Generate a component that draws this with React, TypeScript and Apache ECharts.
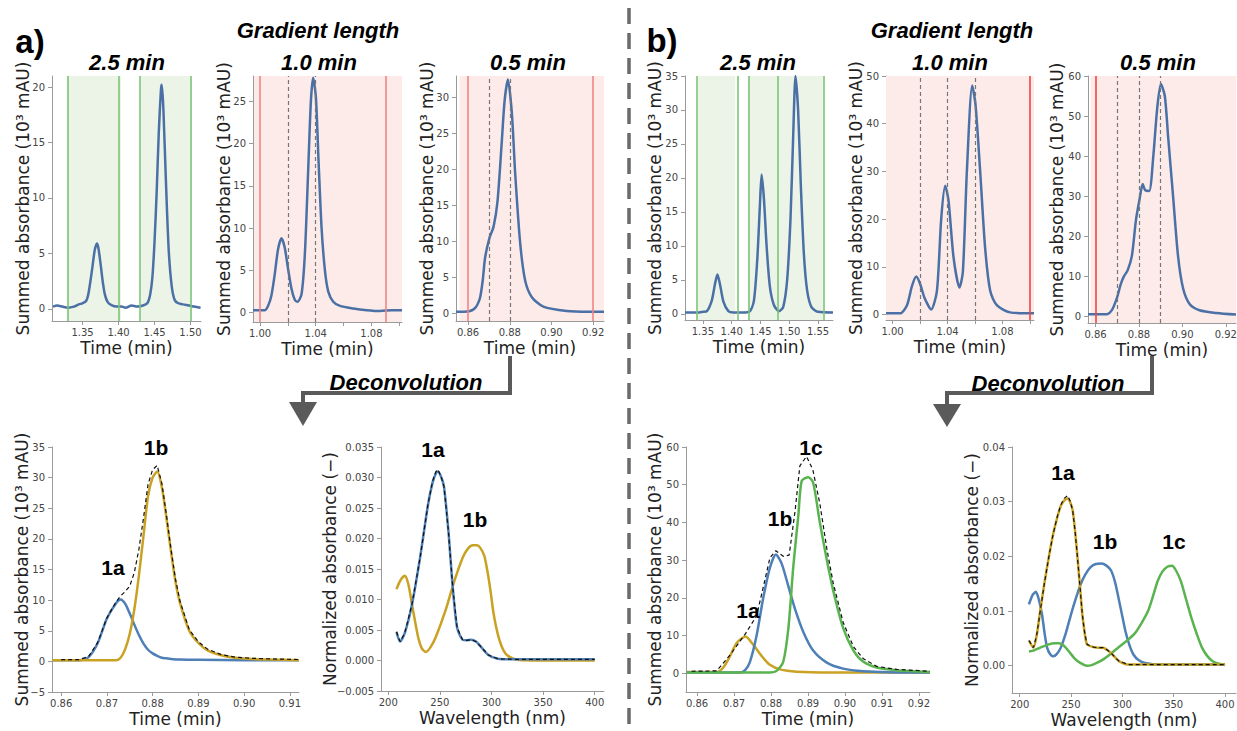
import React, { useEffect, useRef } from "react";
import * as echarts from "echarts";

// ---------- DATA ----------
// a) top row: chromatograms (time in min, summed absorbance in 10^3 mAU)
const a25 = [[1.309,0.2],[1.315,0.3],[1.322,0.2],[1.330,0.1],[1.338,0.2],[1.345,0.4],[1.350,0.5],[1.355,0.7],[1.358,1.3],[1.361,2.5],[1.364,3.9],[1.367,5.3],[1.370,5.9],[1.372,5.5],[1.375,4.1],[1.378,2.5],[1.381,1.3],[1.385,0.6],[1.391,0.3],[1.397,0.2],[1.404,0.2],[1.410,0.1],[1.418,0.3],[1.426,0.2],[1.434,0.3],[1.440,0.5],[1.444,1.3],[1.447,2.8],[1.450,6],[1.453,10.5],[1.456,16],[1.459,19.8],[1.460,20.2],[1.462,18.5],[1.464,15],[1.467,9.5],[1.470,5],[1.474,2],[1.478,0.8],[1.483,0.5],[1.490,0.4],[1.498,0.3],[1.505,0.2],[1.514,0.1]];
const a10 = [[0.9949,0.3],[1.0033,0.3],[1.0057,0.8],[1.0081,2],[1.0105,4.5],[1.0129,7.5],[1.0154,8.8],[1.0177,7.7],[1.0201,5.2],[1.0226,2.8],[1.025,1.5],[1.0269,1.3],[1.0298,2.2],[1.0322,7],[1.0346,17],[1.0365,25],[1.0381,27.8],[1.0401,25.5],[1.042,18],[1.0442,10],[1.0466,5],[1.049,2.5],[1.0526,1.3],[1.0574,0.8],[1.067,0.5],[1.0766,0.3],[1.0862,0.2],[1.0947,0.3],[1.1020,0.3]];
const a05 = [[0.8542,0.2],[0.858,0.2],[0.861,0.3],[0.863,0.6],[0.8645,1.2],[0.8658,2.2],[0.867,4.5],[0.8682,7.8],[0.8703,10.5],[0.8722,12],[0.8741,15.5],[0.8762,24],[0.8775,29.5],[0.8791,32.5],[0.881,27.8],[0.8826,19.4],[0.885,9.7],[0.8874,4.5],[0.8906,2.2],[0.8961,0.9],[0.9073,0.3],[0.918,0.2],[0.9252,0.2]];
const aGreenLines = [1.3281, 1.4035, 1.4313, 1.5017];
const aRed10 = [0.9956, 1.0862];
const aDash10 = [1.0154, 1.0381];
const aRed05 = [0.8559, 0.9185];
const aDash05 = [0.8703, 0.8791];

// b) top row
const b25 = [[1.319,0.2],[1.340,0.2],[1.350,0.3],[1.357,0.4],[1.3656,2],[1.3713,4.5],[1.3753,5.8],[1.3799,4.3],[1.3857,1.8],[1.3943,0.4],[1.403,0.2],[1.420,0.2],[1.4318,0.4],[1.4388,2],[1.4445,8],[1.4491,16],[1.452,20.5],[1.456,17],[1.4607,10],[1.4664,4],[1.4734,1.3],[1.482,0.4],[1.4895,1],[1.4964,5],[1.5022,14],[1.5068,26],[1.5109,35],[1.5154,30],[1.5201,19],[1.5253,9],[1.531,3.5],[1.5386,1],[1.5501,0.3],[1.576,0.2]];
const b10 = [[0.9952,0.3],[1.0055,0.3],[1.0105,2],[1.0141,6],[1.0172,8],[1.020,6.5],[1.0233,3.5],[1.0281,1.1],[1.0323,5],[1.0354,20],[1.0383,27],[1.0407,24],[1.0444,12],[1.0487,5.7],[1.0512,9],[1.0541,30],[1.058,48],[1.0604,44],[1.0638,30],[1.0674,14],[1.0711,5],[1.0759,2],[1.0856,0.5],[1.103,0.3]];
const b05 = [[0.8565,0.5],[0.8652,0.5],[0.8675,1.5],[0.8698,4.5],[0.8716,8],[0.8731,10],[0.8748,11.5],[0.8767,15],[0.8786,24],[0.8802,29],[0.8817,33],[0.8828,31.5],[0.8847,31.3],[0.8866,40],[0.8884,52],[0.8901,58],[0.8919,55],[0.8934,45],[0.8957,30],[0.898,15],[0.9003,7],[0.9034,3],[0.9079,1.5],[0.9156,0.8],[0.9247,0.4]];
const bGreenLines = [1.3413, 1.4064, 1.4279, 1.482, 1.5587];
const bRed10 = [1.0953];
const bDash10 = [1.0172, 1.0383, 1.058];
const bRed05 = [0.8577];
const bDash05 = [0.8731, 0.8817, 0.8901];

// a) bottom: deconvolved chromatogram (0.5 min) and spectra
const c1a = [[0.858,0.2],[0.860,0.2],[0.862,0.2],[0.864,0.2],[0.866,0.7],[0.868,3.0],[0.870,7.0],[0.872,9.5],[0.873,10.1],[0.874,9.4],[0.875,7.8],[0.876,6.0],[0.877,4.3],[0.878,2.9],[0.879,1.9],[0.880,1.3],[0.881,0.9],[0.882,0.6],[0.883,0.5],[0.884,0.4],[0.886,0.3],[0.890,0.25],[0.900,0.2],[0.912,0.2]];
const c1b = [[0.858,0.2],[0.872,0.2],[0.873,0.6],[0.874,2.0],[0.875,4.5],[0.876,8.5],[0.877,14],[0.878,20.5],[0.879,27],[0.880,30.0],[0.881,31.0],[0.882,28.5],[0.883,23.5],[0.884,18],[0.885,13],[0.886,9.5],[0.888,5],[0.890,3.0],[0.892,1.8],[0.895,1.0],[0.898,0.6],[0.902,0.4],[0.906,0.3],[0.912,0.2]];
const cSum = [[0.860,0.3],[0.862,0.3],[0.864,0.3],[0.866,0.8],[0.868,3.1],[0.870,7.1],[0.872,9.7],[0.873,10.7],[0.874,11.4],[0.875,12.3],[0.876,14.5],[0.877,18.3],[0.878,23.4],[0.879,28.9],[0.880,31.3],[0.881,32.0],[0.882,29.1],[0.883,24.0],[0.884,18.4],[0.885,13.4],[0.886,9.8],[0.888,5.2],[0.890,3.2],[0.892,2.0],[0.895,1.1],[0.898,0.7],[0.902,0.5],[0.906,0.4],[0.912,0.3]];
const d1a = [[208,0.0047],[211.5,0.0031],[216,0.0045],[223,0.0092],[230.8,0.0168],[238.5,0.0255],[243,0.0292],[246,0.0306],[248,0.031],[251,0.0302],[254,0.0285],[258.3,0.0212],[262.5,0.012],[266.7,0.0054],[272,0.0034],[276,0.0033],[280.5,0.0034],[285,0.0031],[289,0.0024],[297,0.0009],[306,0.0003],[320,0.0002],[400,0.0002]];
const d1b = [[208,0.0117],[212,0.0132],[216,0.0139],[219.5,0.0125],[223,0.0092],[229,0.0038],[232.5,0.002],[236.5,0.0014],[241,0.0022],[246,0.0038],[255.5,0.0082],[264,0.013],[272,0.0168],[277,0.0183],[281.9,0.0189],[286,0.0189],[289,0.0185],[293,0.0172],[296,0.0147],[299,0.0115],[301.6,0.0082],[304.5,0.0055],[307.8,0.0033],[311.5,0.0017],[315.6,0.0008],[325,0.0001],[340,0],[400,0]];
const dMeas = [[208,0.0047],[211.5,0.0031],[216,0.0045],[223,0.0092],[230.8,0.0168],[238.5,0.0256],[243,0.0294],[246,0.0309],[248,0.0313],[251,0.0303],[254,0.0285],[258.3,0.0212],[262.5,0.012],[266.7,0.0054],[272,0.0034],[276,0.0033],[280.5,0.0034],[285,0.0031],[289,0.0024],[297,0.0009],[306,0.0003],[320,0.0002],[400,0.0002]];

// b) bottom
const e1a = [[0.8572,0.3],[0.8653,0.3],[0.8671,1.5],[0.8689,4.5],[0.8707,8],[0.8731,9.7],[0.8752,7.5],[0.8775,4.5],[0.8797,2.2],[0.8824,1],[0.8869,0.4],[0.896,0.2],[0.923,0.2]];
const e1b = [[0.8572,0.2],[0.8716,0.2],[0.873,0.8],[0.8743,3],[0.8761,10],[0.8779,20],[0.8797,28],[0.8813,31.5],[0.8829,29],[0.8847,23],[0.8865,17],[0.8887,11],[0.8914,6],[0.8951,2.8],[0.8995,1.2],[0.905,0.5],[0.914,0.2],[0.923,0.2]];
const e1c = [[0.8572,0.2],[0.8797,0.2],[0.8815,0.6],[0.8833,3],[0.8847,12],[0.886,28],[0.8874,42],[0.8883,51],[0.8901,52],[0.8914,50.5],[0.8932,40],[0.8951,30],[0.8968,22],[0.8995,12],[0.9023,6],[0.905,3],[0.9086,1.5],[0.914,0.8],[0.923,0.3]];
const eSum = [[0.8585,0.5],[0.8653,0.6],[0.8689,4.8],[0.8731,10.5],[0.8761,15.2],[0.8779,22.8],[0.8797,30.6],[0.8813,32.5],[0.8833,31],[0.8849,31.3],[0.8865,43],[0.8878,55],[0.8896,57.5],[0.8913,54],[0.8932,45],[0.8951,33],[0.8968,24],[0.8995,13.5],[0.9023,7],[0.905,3.8],[0.9086,1.8],[0.914,1.0],[0.923,0.5]];
const f1a = [[209,0.0046],[213.3,0.0033],[216.5,0.0055],[220,0.01],[224,0.015],[228.3,0.0198],[232.5,0.024],[236.7,0.0272],[240,0.0292],[243.3,0.0302],[246.7,0.0306],[249,0.03],[251.6,0.0284],[254,0.0245],[256.3,0.0198],[258.7,0.0145],[261,0.0094],[263.3,0.006],[265.6,0.0039],[271.9,0.0034],[277,0.0033],[281.3,0.0033],[285,0.0029],[289,0.0023],[293,0.0015],[296.9,0.0008],[306,0.0002],[400,0.0002]];
const f1b = [[209,0.0112],[212.5,0.0129],[215.7,0.0135],[218.5,0.0122],[221.7,0.0094],[224.2,0.006],[226.7,0.0033],[229.7,0.0021],[232.7,0.0017],[236,0.0021],[240,0.0033],[245,0.006],[250,0.0094],[254.7,0.0123],[259.4,0.0149],[264,0.0167],[268.8,0.018],[274,0.0186],[279.7,0.0187],[284.5,0.0183],[289,0.0174],[293,0.0152],[296.9,0.0118],[300,0.009],[303,0.0063],[307,0.0037],[310.9,0.002],[316,0.001],[321.9,0.0005],[337.5,0.0002],[400,0.0002]];
const f1c = [[209,0.0026],[214,0.0028],[220,0.0033],[228.3,0.0039],[234,0.0041],[238.3,0.0041],[243.3,0.0036],[248,0.0026],[253.1,0.0014],[259,0.0005],[265.6,0.0],[270,0.0001],[275,0.0005],[281,0.0011],[287.5,0.002],[294,0.003],[300,0.0039],[306,0.0048],[312.5,0.006],[318.7,0.0078],[325,0.01],[330,0.0128],[334.4,0.0155],[339,0.0172],[343.8,0.0181],[348.4,0.0183],[352,0.0175],[356.9,0.0155],[362,0.0122],[367.2,0.0088],[372.5,0.0058],[377.6,0.0033],[383,0.0017],[388,0.0008],[393,0.0004],[398.3,0.0002],[400,0.0001]];
const fMeas = [[209,0.0046],[213.3,0.0033],[216.5,0.0055],[220,0.01],[224,0.015],[228.3,0.0198],[232.5,0.024],[236.7,0.0273],[240,0.0294],[243.3,0.0306],[246.7,0.0311],[249,0.0302],[251.6,0.0284],[254,0.0245],[256.3,0.0198],[258.7,0.0145],[261,0.0094],[263.3,0.006],[265.6,0.0039],[271.9,0.0034],[277,0.0033],[281.3,0.0033],[285,0.0029],[289,0.0023],[293,0.0015],[296.9,0.0008],[306,0.0002],[400,0.0002]];

// tick labels
const tA25 = [1.35, 1.40, 1.45, 1.50];
const tB25 = [1.35, 1.40, 1.45, 1.50, 1.55];
const t10Labels = [1.00, 1.04, 1.08];
const t10Ticks = [1.00, 1.02, 1.04, 1.06, 1.08, 1.10];
const t05 = [0.86, 0.88, 0.90, 0.92];
const tC = [0.86, 0.87, 0.88, 0.89, 0.90, 0.91];
const tE = [0.86, 0.87, 0.88, 0.89, 0.90, 0.91, 0.92];
const tNm = [200, 250, 300, 350, 400];
const yA25 = [0, 5, 10, 15, 20];
const yA10 = [0, 5, 10, 15, 20, 25];
const yA05 = [0, 5, 10, 15, 20, 25, 30];
const yB25 = [0, 5, 10, 15, 20, 25, 30, 35];
const yB10 = [0, 10, 20, 30, 40, 50];
const yB05 = [0, 10, 20, 30, 40, 50, 60];
const yC = [-5, 0, 5, 10, 15, 20, 25, 30, 35];
const yD = [-0.005, 0, 0.005, 0.01, 0.015, 0.02, 0.025, 0.03, 0.035];
const yE = [0, 10, 20, 30, 40, 50, 60];
const yF = [0, 0.01, 0.02, 0.03, 0.04];

// ---------- STYLE ----------
const W = 1237, H = 731;
const FONT = "'DejaVu Sans', Verdana, sans-serif";
const BFONT = "'Liberation Sans', Arial, sans-serif";
const TOP_BLUE = "#4a70a6";
const BLUE = "#4e7fb7";
const GOLD = "#c9a123";
const GREEN = "#59b34f";
const PINK = "#fcebe9";
const LGREEN = "#ecf4e8";
const GLINE = "#7cc576";
const RED_A = "#ef8585";
const RED_B = "#ec4646";
const AXIS = "#9a9a9a";

const grids = [
  { left: 52, top: 76, width: 149, height: 245 },
  { left: 253, top: 76, width: 149, height: 246 },
  { left: 456, top: 76, width: 148, height: 245 },
  { left: 685, top: 76, width: 148, height: 244 },
  { left: 886, top: 76, width: 148, height: 244 },
  { left: 1088, top: 76, width: 148, height: 247 },
  { left: 52, top: 447, width: 247, height: 245 },
  { left: 381, top: 447, width: 223, height: 244 },
  { left: 686, top: 447, width: 244, height: 245 },
  { left: 1012, top: 447, width: 224, height: 246 },
];

function fmt(v: number, dec: number) {
  const n = Math.abs(v) < 1e-12 ? 0 : v;
  return n.toFixed(dec).replace("-", "\u2212");
}

function xAx(i: number, min: number, max: number, labels: number[], ticks: number[], dec: number, name: string) {
  return {
    type: "value", gridIndex: i, min, max, name, nameLocation: "middle", nameGap: 18,
    nameMoveOverlap: false,
    nameTextStyle: { fontFamily: FONT, fontSize: 17, color: "#222" },
    axisLine: { show: true, onZero: false, lineStyle: { color: AXIS, width: 1 } },
    axisTick: { show: true, length: 4, customValues: ticks, lineStyle: { color: AXIS } },
    axisLabel: { customValues: labels, fontFamily: FONT, fontSize: 10, color: "#444", margin: 6, formatter: (v: number) => fmt(v, dec) },
    splitLine: { show: false },
  };
}

function yAx(i: number, min: number, max: number, labels: number[], dec: number, name: string, gap: number) {
  return {
    type: "value", gridIndex: i, min, max, name, nameLocation: "middle", nameGap: gap, nameRotate: 90,
    nameMoveOverlap: false,
    nameTextStyle: { fontFamily: FONT, fontSize: 17, color: "#222" },
    axisLine: { show: true, onZero: false, lineStyle: { color: AXIS, width: 1 } },
    axisTick: { show: true, length: 4, customValues: labels, lineStyle: { color: AXIS } },
    axisLabel: { customValues: labels, fontFamily: FONT, fontSize: 10, color: "#444", margin: 7, formatter: (v: number) => fmt(v, dec) },
    splitLine: { show: false },
  };
}

function curve(i: number, data: number[][], color: string, width: number, dashed = false, extra: any = {}) {
  return {
    type: "line", xAxisIndex: i, yAxisIndex: i, data, symbol: "none", showSymbol: false, silent: true,
    smooth: dashed ? false : 0.25,
    lineStyle: { color, width, type: dashed ? [4, 3] : "solid" },
    z: dashed ? 5 : 3,
    ...extra,
  };
}

function vlines(vals: number[], color: string, dashed: boolean) {
  return vals.map((v) => ({
    xAxis: v,
    lineStyle: { color, width: dashed ? 1.2 : 1.6, type: dashed ? [4, 3] : "solid" },
  }));
}

function markers(areas: number[][], color: string, lines: any[]) {
  return {
    markArea: { silent: true, itemStyle: { color }, data: areas.map(([a, b]) => [{ xAxis: a }, { xAxis: b }]) },
    markLine: { silent: true, symbol: ["none", "none"], label: { show: false }, emphasis: { disabled: true }, data: lines },
  };
}

const SUMMED = "Summed absorbance (10\u00b3 mAU)";
const NORM = "Normalized absorbance (\u2212)";
const TIME = "Time (min)";
const WL = "Wavelength (nm)";

function txt(text: string, x: number, y: number, font: string) {
  return {
    type: "text", x, y, z: 100, silent: true,
    style: { text, font, fill: "#000", textAlign: "center", textVerticalAlign: "middle", align: "center", verticalAlign: "middle" },
  };
}

function buildOption() {
  const T1 = "italic bold 22px " + BFONT;
  const LB = "bold 21px " + BFONT;
  const graphic: any[] = [
    txt("a)", 30, 41, "bold 33px " + BFONT),
    txt("b)", 662, 40, "bold 33px " + BFONT),
    txt("Gradient length", 318, 30, T1),
    txt("Gradient length", 952, 30, T1),
    txt("2.5 min", 127, 62, T1), txt("1.0 min", 319, 62, T1), txt("0.5 min", 528, 62, T1),
    txt("2.5 min", 758, 62, T1), txt("1.0 min", 950, 62, T1), txt("0.5 min", 1158, 62, T1),
    txt("Deconvolution", 406, 382, T1), txt("Deconvolution", 1048, 383, T1),
    txt("1a", 113, 567, LB), txt("1b", 156, 447, LB),
    txt("1a", 433, 449, LB), txt("1b", 475, 519, LB),
    txt("1a", 748, 610, LB), txt("1b", 780, 518, LB), txt("1c", 811, 447, LB),
    txt("1a", 1063, 472, LB), txt("1b", 1105, 541, LB), txt("1c", 1174, 541, LB),
    { type: "line", z: 90, silent: true, shape: { x1: 629, y1: 8, x2: 629, y2: 731 }, style: { stroke: "#6a6a6a", lineWidth: 3.5, lineDash: [16, 9] } },
    { type: "polyline", z: 90, silent: true, shape: { points: [[510, 356], [510, 393], [303, 393], [303, 404]] }, style: { stroke: "#5a5a5a", lineWidth: 4, fill: null } },
    { type: "polygon", z: 90, silent: true, shape: { points: [[289, 402], [317, 402], [303, 426]] }, style: { fill: "#5a5a5a" } },
    { type: "polyline", z: 90, silent: true, shape: { points: [[1152, 356], [1152, 393], [947, 393], [947, 405]] }, style: { stroke: "#5a5a5a", lineWidth: 4, fill: null } },
    { type: "polygon", z: 90, silent: true, shape: { points: [[933, 404], [961, 404], [947, 427]] }, style: { fill: "#5a5a5a" } },
  ];

  const xAxis = [
    xAx(0, 1.3076, 1.5146, tA25, tA25, 2, TIME),
    xAx(1, 0.9949, 1.102, t10Labels, t10Ticks, 2, TIME),
    xAx(2, 0.8542, 0.9252, t05, t05, 2, TIME),
    xAx(3, 1.319, 1.576, tB25, tB25, 2, TIME),
    xAx(4, 0.9952, 1.103, t10Labels, t10Ticks, 2, TIME),
    xAx(5, 0.8565, 0.9247, t05, t05, 2, TIME),
    xAx(6, 0.858, 0.912, tC, tC, 2, TIME),
    xAx(7, 193, 409, tNm, tNm, 0, WL),
    xAx(8, 0.857, 0.923, tE, tE, 2, TIME),
    xAx(9, 192.5, 410.7, tNm, tNm, 0, WL),
  ];
  const yAxis = [
    yAx(0, -1.1, 21, yA25, 0, SUMMED, 21),
    yAx(1, -1.1, 28, yA10, 0, SUMMED, 21),
    yAx(2, -1.1, 33, yA05, 0, SUMMED, 21),
    yAx(3, -0.9, 35, yB25, 0, SUMMED, 22),
    yAx(4, -1.1, 50, yB10, 0, SUMMED, 22),
    yAx(5, -1.7, 60, yB05, 0, SUMMED, 23),
    yAx(6, -5, 35, yC, 0, SUMMED, 22),
    yAx(7, -0.005, 0.035, yD, 3, NORM, 43),
    yAx(8, -5, 60, yE, 0, SUMMED, 23),
    yAx(9, -0.005, 0.04, yF, 2, NORM, 32),
  ];

  const series: any[] = [
    curve(0, a25, TOP_BLUE, 2.5, false, markers([[aGreenLines[0], aGreenLines[1]], [aGreenLines[2], aGreenLines[3]]], LGREEN, vlines(aGreenLines, GLINE, false))),
    curve(1, a10, TOP_BLUE, 2.5, false, markers([[aRed10[0], 1.102]], PINK, [...vlines(aRed10, RED_A, false), ...vlines(aDash10, "#777", true)])),
    curve(2, a05, TOP_BLUE, 2.5, false, markers([[aRed05[0], 0.9252]], PINK, [...vlines(aRed05, RED_A, false), ...vlines(aDash05, "#777", true)])),
    curve(3, b25, TOP_BLUE, 2.5, false, markers([[bGreenLines[0], bGreenLines[1]], [bGreenLines[2], bGreenLines[4]]], LGREEN, vlines(bGreenLines, GLINE, false))),
    curve(4, b10, TOP_BLUE, 2.5, false, markers([[0.9952, 1.103]], PINK, [...vlines(bRed10, RED_B, false), ...vlines(bDash10, "#777", true)])),
    curve(5, b05, TOP_BLUE, 2.5, false, markers([[bRed05[0], 0.9247]], PINK, [...vlines(bRed05, RED_B, false), ...vlines(bDash05, "#777", true)])),
    curve(6, c1a, BLUE, 2.5),
    curve(6, c1b, GOLD, 2.5),
    curve(6, cSum, "#111", 1.2, true),
    curve(7, d1b, GOLD, 2.5),
    curve(7, d1a, BLUE, 2.5),
    curve(7, dMeas, "#111", 1.2, true),
    curve(8, e1a, GOLD, 2.5),
    curve(8, e1b, BLUE, 2.5),
    curve(8, e1c, GREEN, 2.5),
    curve(8, eSum, "#111", 1.2, true),
    curve(9, f1b, BLUE, 2.5),
    curve(9, f1c, GREEN, 2.5),
    curve(9, f1a, GOLD, 2.5),
    curve(9, fMeas, "#111", 1.2, true),
  ];

  return {
    animation: false,
    backgroundColor: "#ffffff",
    grid: grids.map((g) => ({ ...g, containLabel: false, outerBoundsMode: "none" })),
    xAxis,
    yAxis,
    series,
    graphic,
  };
}

export default function App() {
  const ref = useRef<HTMLDivElement>(null);
  useEffect(() => {
    if (!ref.current) return;
    const chart = echarts.init(ref.current, null, { renderer: "svg", width: W, height: H });
    chart.setOption(buildOption() as any);
    return () => chart.dispose();
  }, []);
  return <div ref={ref} style={{ position: "fixed", left: 0, top: 0, width: W, height: H, background: "#fff" }} />;
}
